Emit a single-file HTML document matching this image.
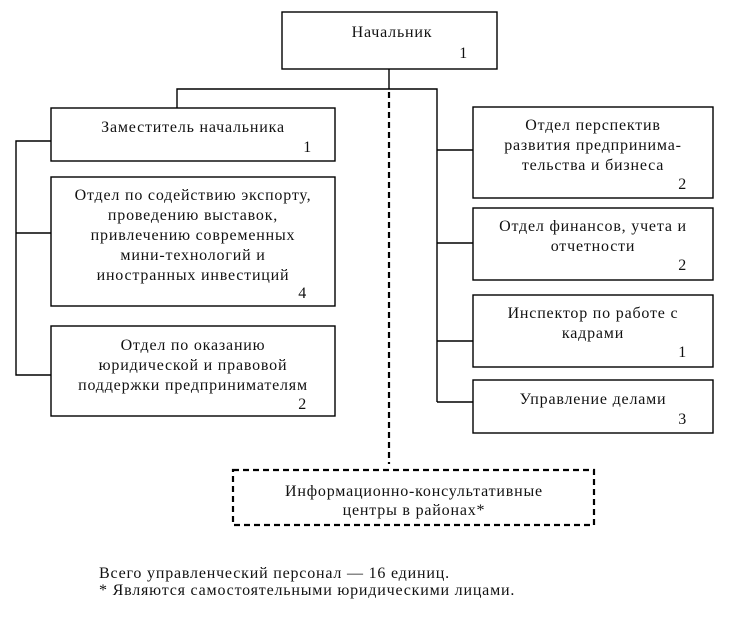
<!DOCTYPE html>
<html><head><meta charset="utf-8"><style>
html,body{margin:0;padding:0;background:#fff;}
svg{display:block;}
text{font-family:"Liberation Serif","DejaVu Serif",serif;font-size:16px;fill:#111;letter-spacing:0.8px;}
</style></head><body>
<svg width="732" height="617" viewBox="0 0 732 617" xmlns="http://www.w3.org/2000/svg">
<g fill="none" stroke="#000" stroke-width="1.4">
<rect x="282" y="12" width="215" height="57"/>
<rect x="51" y="108" width="284" height="53"/>
<rect x="51" y="177" width="284" height="129"/>
<rect x="51" y="326" width="284" height="90"/>
<rect x="473" y="107" width="240" height="91"/>
<rect x="473" y="208" width="240" height="72"/>
<rect x="473" y="295" width="240" height="72"/>
<rect x="473" y="380" width="240" height="53"/>
<polyline points="177,108 177,89 437,89 437,402"/>
<line x1="389" y1="69" x2="389" y2="89"/>
<polyline points="51,141 16,141 16,375 51,375"/>
<line x1="16" y1="233" x2="51" y2="233"/>
<line x1="437" y1="150" x2="473" y2="150"/>
<line x1="437" y1="243" x2="473" y2="243"/>
<line x1="437" y1="341" x2="473" y2="341"/>
<line x1="437" y1="402" x2="473" y2="402"/>
</g>
<g fill="none" stroke="#000" stroke-width="2.2" stroke-dasharray="6,4">
<line x1="389" y1="92" x2="389" y2="464"/>
<rect x="233" y="470" width="361" height="55"/>
</g>
<g text-anchor="middle">
<text x="392" y="37">Начальник</text>
<text x="193" y="132">Заместитель начальника</text>
<text x="193" y="200">Отдел по содействию экспорту,</text>
<text x="193" y="220">проведению выставок,</text>
<text x="193" y="240">привлечению современных</text>
<text x="193" y="260">мини-технологий и</text>
<text x="193" y="280">иностранных инвестиций</text>
<text x="193" y="350">Отдел по оказанию</text>
<text x="193" y="370">юридической и правовой</text>
<text x="193" y="390">поддержки предпринимателям</text>
<text x="593" y="130">Отдел перспектив</text>
<text x="593" y="150">развития предпринима-</text>
<text x="593" y="170">тельства и бизнеса</text>
<text x="593" y="231">Отдел финансов, учета и</text>
<text x="593" y="251">отчетности</text>
<text x="593" y="318">Инспектор по работе с</text>
<text x="593" y="338">кадрами</text>
<text x="593" y="404">Управление делами</text>
<text x="414" y="496">Информационно-консультативные</text>
<text x="414" y="515">центры в районах*</text>
</g>
<g text-anchor="end">
<text x="468" y="58">1</text>
<text x="312" y="152">1</text>
<text x="307" y="298">4</text>
<text x="307" y="409">2</text>
<text x="687" y="189">2</text>
<text x="687" y="270">2</text>
<text x="687" y="357">1</text>
<text x="687" y="424">3</text>
</g>
<text x="99" y="578">Всего управленческий персонал — 16 единиц.</text>
<text x="99" y="595">* Являются самостоятельными юридическими лицами.</text>
</svg>
</body></html>
